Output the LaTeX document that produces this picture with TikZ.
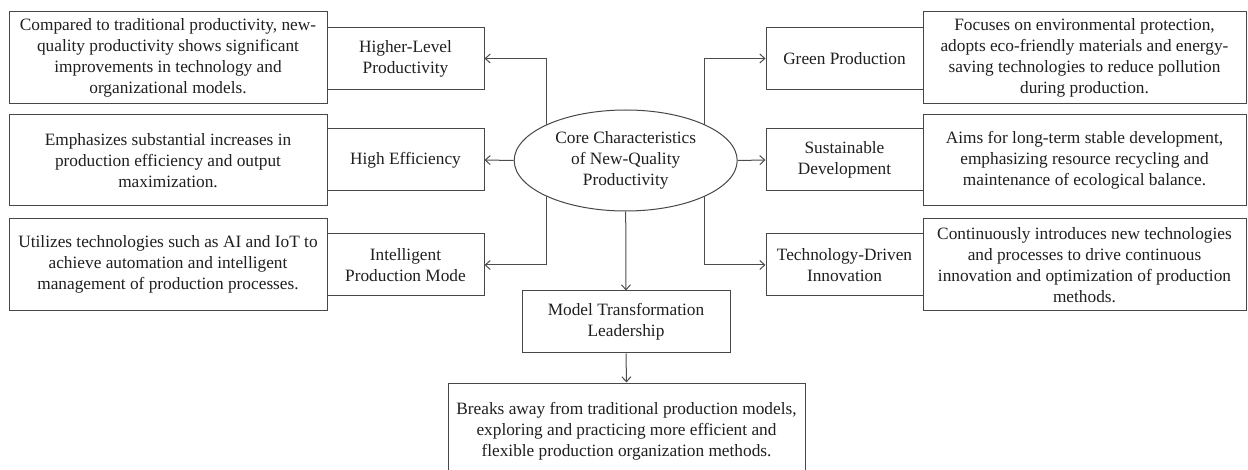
\documentclass[tikz,border=0pt]{standalone}
\usepackage{fontspec}
\setmainfont{Liberation Serif}
\usetikzlibrary{arrows.meta,backgrounds,shapes.geometric,calc}
\begin{document}
\begin{tikzpicture}[x=1pt,y=-1pt,
  every node/.style={font=\fontsize{17.3}{21}\selectfont, text=black!88},
  box/.style={draw=black!72, line width=1pt, align=center, inner sep=0pt},
  desc/.style={box},
  lbl/.style={box, minimum width=157pt, minimum height=62pt},
  conn/.style={draw=black!70, line width=1pt, -{Straight Barb[length=5pt,width=9pt]}}]
\useasboundingbox (0,0) rectangle (1248,470);
\clip (0,0) rectangle (1248,470);

% central ellipse
\node[ellipse, draw=black!72, line width=1pt, fill=white, inner sep=0pt,
      minimum width=223pt, minimum height=101pt, align=center] (core) at (625.7,160.5)
  {Core Characteristics\\of New-Quality\\Productivity};

% left side: labels and descriptions
\node[lbl] (hl) at (405.5,58.5) {Higher-Level\\Productivity};
\node[lbl] (he) at (405.5,160) {High Efficiency};
\node[lbl] (ip) at (405.5,265) {Intelligent\\Production Mode};

\node[desc, minimum width=318pt, minimum height=92pt] (hld) at (168,58)
  {Compared to traditional productivity, new-\\quality productivity shows significant\\improvements in technology and\\organizational models.};
\node[desc, minimum width=318pt, minimum height=91pt] (hed) at (168,160.5)
  {Emphasizes substantial increases in\\production efficiency and output\\maximization.};
\node[desc, minimum width=318pt, minimum height=91.5pt] (ipd) at (168,264.75)
  {Utilizes technologies such as AI and IoT to\\achieve automation and intelligent\\management of production processes.};

% right side: labels and descriptions
\node[lbl] (gp) at (844.5,58.5) {Green Production};
\node[lbl] (sd) at (844.5,160) {Sustainable\\Development};
\node[lbl] (ti) at (844.5,265) {Technology-Driven\\Innovation};

\node[desc, minimum width=323pt, minimum height=92pt] (gpd) at (1084.5,58)
  {Focuses on environmental protection,\\adopts eco-friendly materials and energy-\\saving technologies to reduce pollution\\during production.};
\node[desc, minimum width=323pt, minimum height=91pt] (sdd) at (1084.5,160.5)
  {Aims for long-term stable development,\\emphasizing resource recycling and\\maintenance of ecological balance.};
\node[desc, minimum width=323pt, minimum height=91.5pt] (tid) at (1084.5,264.75)
  {Continuously introduces new technologies\\and processes to drive continuous\\innovation and optimization of production\\methods.};

% bottom branch
\node[box, minimum width=208pt, minimum height=62pt] (mt) at (626,322)
  {Model Transformation\\Leadership};
\node[desc, minimum width=357pt, minimum height=97pt] (bd) at (626.5,431.5)
  {Breaks away from traditional production models,\\exploring and practicing more efficient and\\flexible production organization methods.};

% connectors
\begin{scope}[on background layer]
  \draw[conn] ($(core.center)+(-79,0)$) |- (hl.east);
  \draw[conn] (core.west) -- (he.east);
  \draw[conn] ($(core.center)+(-79,0)$) |- (ip.east);
  \draw[conn] ($(core.center)+(78.3,0)$) |- (gp.west);
  \draw[conn] (core.east) -- (sd.west);
  \draw[conn] ($(core.center)+(78.3,0)$) |- (ti.west);
  \draw[conn] (core.south) -- (mt.north);
  \draw[conn] (mt.south) -- (bd.north);
\end{scope}
\end{tikzpicture}
\end{document}
